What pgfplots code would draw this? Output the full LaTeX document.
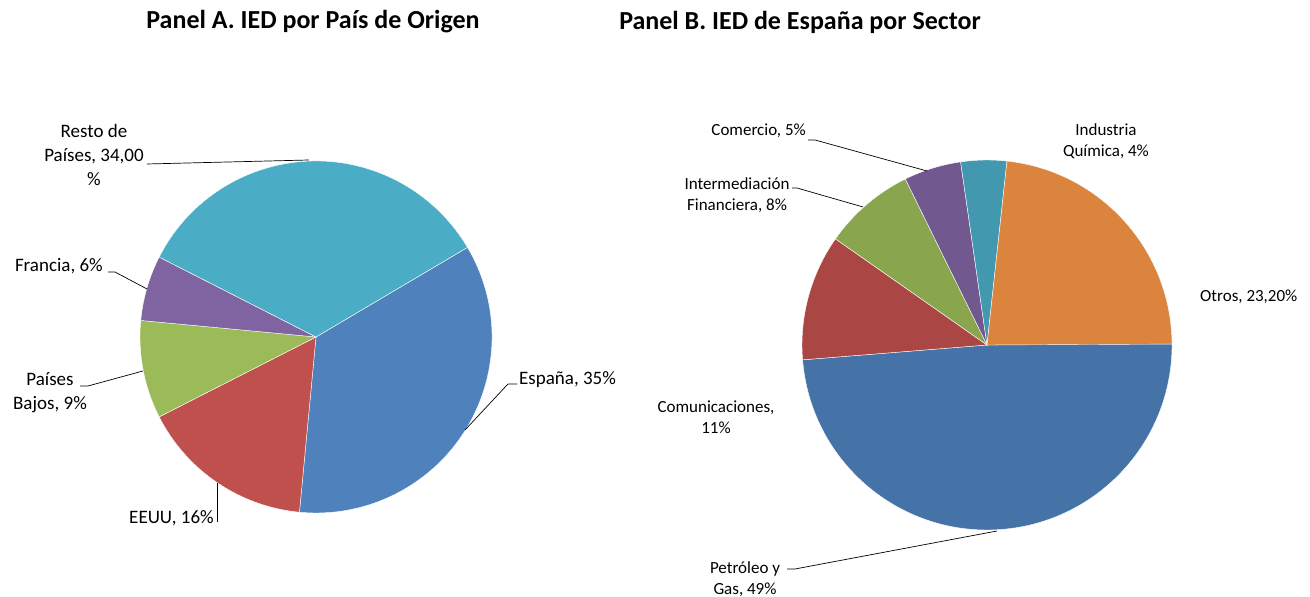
\documentclass[border=0pt]{standalone}
\usepackage{fontspec}
\setmainfont{Carlito}
\usepackage{pgfplots}
\usepackage{pgfplotstable}
\pgfplotsset{compat=1.18}
\definecolor{cEsp}{HTML}{4F81BD}
\definecolor{cEEUU}{HTML}{C0504D}
\definecolor{cPB}{HTML}{9BBB59}
\definecolor{cFra}{HTML}{8064A2}
\definecolor{cResto}{HTML}{4BACC6}
\definecolor{cPet}{HTML}{4572A7}
\definecolor{cCom}{HTML}{AA4643}
\definecolor{cInt}{HTML}{89A54E}
\definecolor{cCmr}{HTML}{71588F}
\definecolor{cInd}{HTML}{4198AF}
\definecolor{cOtr}{HTML}{DB843D}

% Panel A: IED por pais de origen (%)
\pgfplotstableread{
value color
35 cEsp
16 cEEUU
9 cPB
6 cFra
34 cResto
}\tableA
% Panel B: IED de Espana por sector (%)
\pgfplotstableread{
value color
49 cPet
11 cCom
8 cInt
5 cCmr
4 cInd
23.2 cOtr
}\tableB

\newcommand{\pie}[5]{%
  \pgfplotstablegetrowsof{#1}%
  \pgfmathtruncatemacro\nrows{\pgfplotsretval-1}%
  \xdef\curang{#5}%
  \pgfplotsforeachungrouped \i in {0,...,\nrows}{%
    \pgfplotstablegetelem{\i}{value}\of{#1}\let\val\pgfplotsretval
    \pgfplotstablegetelem{\i}{color}\of{#1}\let\col\pgfplotsretval
    \pgfmathsetmacro\nextang{\curang-3.6*\val}%
    \edef\temp{\noexpand\fill[\col, draw=white, line width=0.4pt] (axis cs:#2,#3) -- ++(\curang:#4pt) arc[start angle=\curang, end angle=\nextang, radius=#4pt] -- cycle;}%
    \temp
    \xdef\curang{\nextang}%
  }%
}

\begin{document}
\begin{tikzpicture}
\begin{axis}[x=1pt, y=1pt, xmin=0, xmax=1310, ymin=0, ymax=596,
  hide axis, clip=false, disabledatascaling]
\path (axis cs:0,0) rectangle (axis cs:1310,596);

\pie{\tableA}{316}{259}{176}{30.6}
\pie{\tableB}{987}{251}{185}{1.0}

% titles
\node[font=\fontsize{26}{30}\selectfont\bfseries] at (axis cs:313,574) {Panel A. IED por País de Origen};
\node[font=\fontsize{26}{30}\selectfont\bfseries] at (axis cs:800,574) {Panel B. IED de España por Sector};

% Panel A labels
\begin{scope}[font=\fontsize{19}{24}\selectfont, inner sep=0pt]
\node[align=center] at (axis cs:94,441) {Resto de\\Países, 34,00\\\%};
\node[anchor=east] at (axis cs:103,330) {Francia, 6\%};
\node[align=center] at (axis cs:50,203) {Países\\Bajos, 9\%};
\node[anchor=west] at (axis cs:519,216) {España, 35\%};
\node[anchor=east] at (axis cs:214,78) {EEUU, 16\%};
\end{scope}
\begin{scope}[line width=0.7pt]
\draw (axis cs:147,432) -- (axis cs:309,436);
\draw (axis cs:108,324) -- (axis cs:115,324) -- (axis cs:147,307);
\draw (axis cs:80,210) -- (axis cs:88,210) -- (axis cs:143,225);
\draw (axis cs:517,212) -- (axis cs:508,212) -- (axis cs:465,166);
\draw (axis cs:217,74) -- (axis cs:217,113);
\end{scope}

% Panel B labels
\begin{scope}[font=\fontsize{17}{20.5}\selectfont, inner sep=0pt]
\node[anchor=east] at (axis cs:806,465) {Comercio, 5\%};
\node[align=center] at (axis cs:737,401) {Intermediación\\Financiera, 8\%};
\node[align=center] at (axis cs:716,179) {Comunicaciones,\\11\%};
\node[align=center] at (axis cs:745,17) {Petróleo y\\Gas, 49\%};
\node[align=center] at (axis cs:1106,455) {Industria\\Química, 4\%};
\node[anchor=west] at (axis cs:1200,299) {Otros, 23,20\%};
\end{scope}
\begin{scope}[line width=0.7pt]
\draw (axis cs:808,456) -- (axis cs:815,456) -- (axis cs:927,425);
\draw (axis cs:792,408) -- (axis cs:797,408) -- (axis cs:863,389);
\draw (axis cs:787,27) -- (axis cs:795,27) -- (axis cs:997,65);
\end{scope}
\end{axis}
\end{tikzpicture}
\end{document}
